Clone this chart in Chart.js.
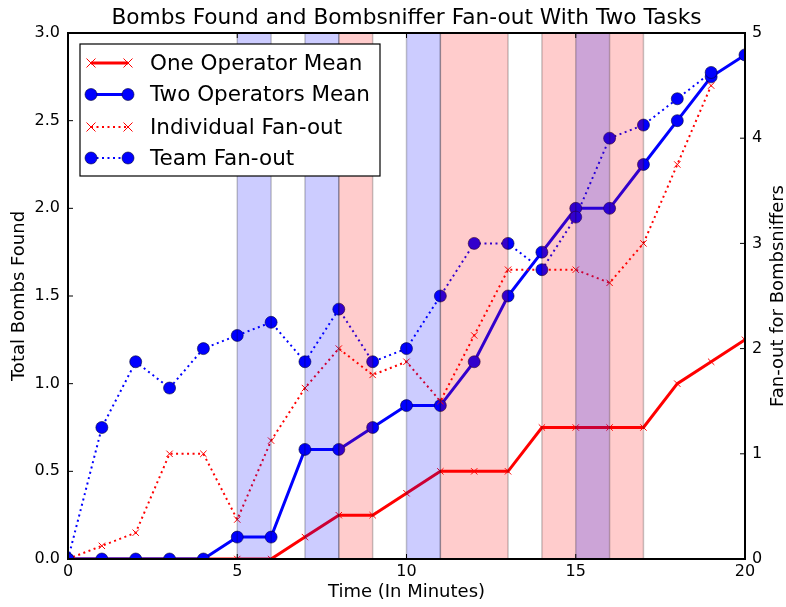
<!DOCTYPE html>
<html>
<head>
<meta charset="utf-8">
<script src="https://cdn.jsdelivr.net/npm/chart.js@4.4.0/dist/chart.umd.min.js"></script>
<style>
html,body{margin:0;padding:0;background:#fff;}
#wrap{width:786px;height:607px;position:relative;}
</style>
</head>
<body>
<div id="wrap"><canvas id="c"></canvas></div>
<script>
// ---- data ----
const minutes = [0,1,2,3,4,5,6,7,8,9,10,11,12,13,14,15,16,17,18,19,20];
const oneOperatorMean  = [0,0,0,0,0,0,0,0.125,0.25,0.25,0.375,0.5,0.5,0.5,0.75,0.75,0.75,0.75,1.0,1.125,1.25];
const twoOperatorsMean = [0,0,0,0,0,0.125,0.125,0.625,0.625,0.75,0.875,0.875,1.125,1.5,1.75,2.0,2.0,2.25,2.5,2.75,2.875];
const individualFanOut = [0,0.125,0.25,1.0,1.0,0.375,1.125,1.625,2.0,1.75,1.875,1.5,2.125,2.75,2.75,2.75,2.625,3.0,3.75,4.5];
const teamFanOut       = [0,1.25,1.875,1.625,2.0,2.125,2.25,1.875,2.375,1.875,2.0,2.5,3.0,3.0,2.75,3.25,4.0,4.125,4.375,4.625];
const redSpans  = [[8,9],[11,13],[14,17]];
const blueSpans = [[5,6],[7,8],[10,11],[15,16]];
const seriesLabels = ['One Operator Mean','Two Operators Mean','Individual Fan-out','Team Fan-out'];
const leftTicks = [0,0.5,1.0,1.5,2.0,2.5,3.0];
const rightTicks = [0,1,2,3,4,5];
const xTicks = [0,5,10,15,20];
const rightAxisTitle = 'Fan-out for Bombsniffers';

const RED = '#ff0000', BLUE = '#0000ff';
const DOTS = [2, 3.5];
const pts = (ys) => ys.map((y,i) => ({x: minutes[i], y}));

Chart.defaults.font.family = '"DejaVu Sans", sans-serif';
Chart.defaults.color = '#000';

const spansPlugin = {
  id: 'spans',
  afterDatasetsDraw(chart) {
    const {ctx, chartArea: a, scales: {x}} = chart;
    ctx.save();
    ctx.beginPath(); ctx.rect(a.left, a.top, a.right-a.left, a.bottom-a.top); ctx.clip();
    const draw = (spans, fill) => {
      spans.forEach(([s,e]) => {
        const x1 = x.getPixelForValue(s), x2 = x.getPixelForValue(e);
        ctx.fillStyle = fill;
        ctx.fillRect(x1, a.top, x2-x1, a.bottom-a.top);
        ctx.strokeStyle = 'rgba(0,0,0,0.22)';
        ctx.lineWidth = 1.5;
        ctx.beginPath();
        ctx.moveTo(x1, a.top); ctx.lineTo(x1, a.bottom);
        ctx.moveTo(x2, a.top); ctx.lineTo(x2, a.bottom);
        ctx.stroke();
      });
    };
    draw(redSpans, 'rgba(255,0,0,0.2)');
    draw(blueSpans, 'rgba(0,0,255,0.2)');
    ctx.restore();
  }
};

function drawMarker(ctx, type, cx, cy, color) {
  if (type === 'x') {
    const r = 4.5;
    ctx.strokeStyle = color; ctx.lineWidth = 1; ctx.setLineDash([]);
    ctx.beginPath();
    ctx.moveTo(cx-r, cy-r); ctx.lineTo(cx+r, cy+r);
    ctx.moveTo(cx-r, cy+r); ctx.lineTo(cx+r, cy-r);
    ctx.stroke();
  } else {
    ctx.fillStyle = color; ctx.strokeStyle = '#000033'; ctx.lineWidth = 0.6; ctx.setLineDash([]);
    ctx.beginPath(); ctx.arc(cx, cy, 6, 0, Math.PI*2); ctx.fill(); ctx.stroke();
  }
}

const framePlugin = {
  id: 'frame',
  afterDraw(chart) {
    const {ctx, chartArea: a, scales} = chart;
    ctx.save();
    // tick marks (inward)
    ctx.strokeStyle = '#000'; ctx.lineWidth = 1; ctx.setLineDash([]);
    ctx.beginPath();
    xTicks.forEach(v => {
      const px = scales.x.getPixelForValue(v);
      ctx.moveTo(px, a.bottom); ctx.lineTo(px, a.bottom-5);
      ctx.moveTo(px, a.top); ctx.lineTo(px, a.top+5);
    });
    leftTicks.forEach(v => {
      const py = scales.y.getPixelForValue(v);
      ctx.moveTo(a.left, py); ctx.lineTo(a.left+5, py);
    });
    rightTicks.forEach(v => {
      const py = scales.y1.getPixelForValue(v);
      ctx.moveTo(a.right, py); ctx.lineTo(a.right-5, py);
    });
    ctx.stroke();
    // frame
    ctx.lineWidth = 2;
    ctx.strokeRect(a.left, a.top, a.right-a.left, a.bottom-a.top);

    // right axis title (reads bottom-to-top, like matplotlib)
    ctx.save();
    ctx.translate(778, (a.top + a.bottom) / 2);
    ctx.rotate(-Math.PI / 2);
    ctx.font = '18px "DejaVu Sans"';
    ctx.fillStyle = '#000';
    ctx.textAlign = 'center';
    ctx.textBaseline = 'middle';
    ctx.fillText(rightAxisTitle, 0, 0);
    ctx.restore();

    // legend
    const lx = 80, ly = 44, lw = 300, lh = 132;
    ctx.fillStyle = '#fff';
    ctx.fillRect(lx, ly, lw, lh);
    ctx.lineWidth = 1.2; ctx.strokeStyle = '#000';
    ctx.strokeRect(lx, ly, lw, lh);
    const rows = [63, 94.5, 127, 158];
    const styles = [
      {c: RED, dash: [], m: 'x'},
      {c: BLUE, dash: [], m: 'o'},
      {c: RED, dash: DOTS, m: 'x'},
      {c: BLUE, dash: DOTS, m: 'o'}
    ];
    ctx.font = '21.5px "DejaVu Sans"';
    ctx.textBaseline = 'middle';
    ctx.textAlign = 'left';
    rows.forEach((ry, i) => {
      const s = styles[i];
      ctx.strokeStyle = s.c; ctx.lineWidth = s.dash.length ? 2 : 3; ctx.setLineDash(s.dash);
      ctx.beginPath(); ctx.moveTo(91, ry); ctx.lineTo(128, ry); ctx.stroke();
      ctx.setLineDash([]);
      drawMarker(ctx, s.m, 91, ry, s.c);
      drawMarker(ctx, s.m, 128, ry, s.c);
      ctx.fillStyle = '#000';
      ctx.fillText(seriesLabels[i], 150, ry + 1);
    });
    ctx.restore();
  }
};

const ctx = document.getElementById('c').getContext('2d');
new Chart(ctx, {
  type: 'line',
  data: {
    datasets: [
      {label: seriesLabels[0], data: pts(oneOperatorMean), yAxisID: 'y', order: 4,
       borderColor: RED, borderWidth: 3, pointStyle: 'crossRot', pointRadius: 4.5,
       pointBorderColor: RED, pointBorderWidth: 1, pointBackgroundColor: RED, clip: 0, tension: 0},
      {label: seriesLabels[1], data: pts(twoOperatorsMean), yAxisID: 'y', order: 3,
       borderColor: BLUE, borderWidth: 3, pointStyle: 'circle', pointRadius: 6,
       pointBorderColor: '#000033', pointBorderWidth: 0.6, pointBackgroundColor: BLUE, clip: 0, tension: 0},
      {label: seriesLabels[2], data: pts(individualFanOut), yAxisID: 'y1', order: 2,
       borderColor: RED, borderWidth: 2, borderDash: DOTS, pointStyle: 'crossRot', pointRadius: 4.5,
       pointBorderColor: RED, pointBorderWidth: 1, pointBackgroundColor: RED, clip: 0, tension: 0},
      {label: seriesLabels[3], data: pts(teamFanOut), yAxisID: 'y1', order: 1,
       borderColor: BLUE, borderWidth: 2, borderDash: DOTS, pointStyle: 'circle', pointRadius: 6,
       pointBorderColor: '#000033', pointBorderWidth: 0.6, pointBackgroundColor: BLUE, clip: 0, tension: 0}
    ]
  },
  options: {
    responsive: true,
    maintainAspectRatio: false,
    animation: false,
    layout: {padding: 0},
    plugins: {
      legend: {display: false},
      tooltip: {enabled: false},
      title: {display: true, fullSize: false, text: 'Bombs Found and Bombsniffer Fan-out With Two Tasks',
              font: {size: 21.7, weight: 'normal'}, color: '#000', padding: {top: 5, bottom: 1.96}}
    },
    scales: {
      x: {type: 'linear', min: 0, max: 20,
          afterBuildTicks: s => { s.ticks = xTicks.map(v => ({value: v})); },
          ticks: {font: {size: 16}, padding: 3, color: '#000', maxRotation: 0},
          grid: {display: false, drawTicks: false}, border: {display: false},
          title: {display: true, text: 'Time (In Minutes)', font: {size: 18}, color: '#000', padding: {top: 0, bottom: 4}},
          afterFit: s => { s.height = 48; }},
      y: {type: 'linear', position: 'left', min: 0, max: 3,
          afterBuildTicks: s => { s.ticks = leftTicks.map(v => ({value: v})); },
          ticks: {font: {size: 16}, padding: 8, color: '#000', callback: v => v.toFixed(1)},
          grid: {display: false, drawTicks: false}, border: {display: false},
          title: {display: true, text: 'Total Bombs Found', font: {size: 18}, color: '#000', padding: {top: 9, bottom: 0}},
          afterFit: s => { s.width = 68; }},
      y1: {type: 'linear', position: 'right', min: 0, max: 5,
          afterBuildTicks: s => { s.ticks = rightTicks.map(v => ({value: v})); },
          ticks: {font: {size: 16}, padding: 7, color: '#000'},
          grid: {display: false, drawTicks: false}, border: {display: false},
          title: {display: false},
          afterFit: s => { s.width = 41; }}
    }
  },
  plugins: [spansPlugin, framePlugin]
});
</script>
</body>
</html>
